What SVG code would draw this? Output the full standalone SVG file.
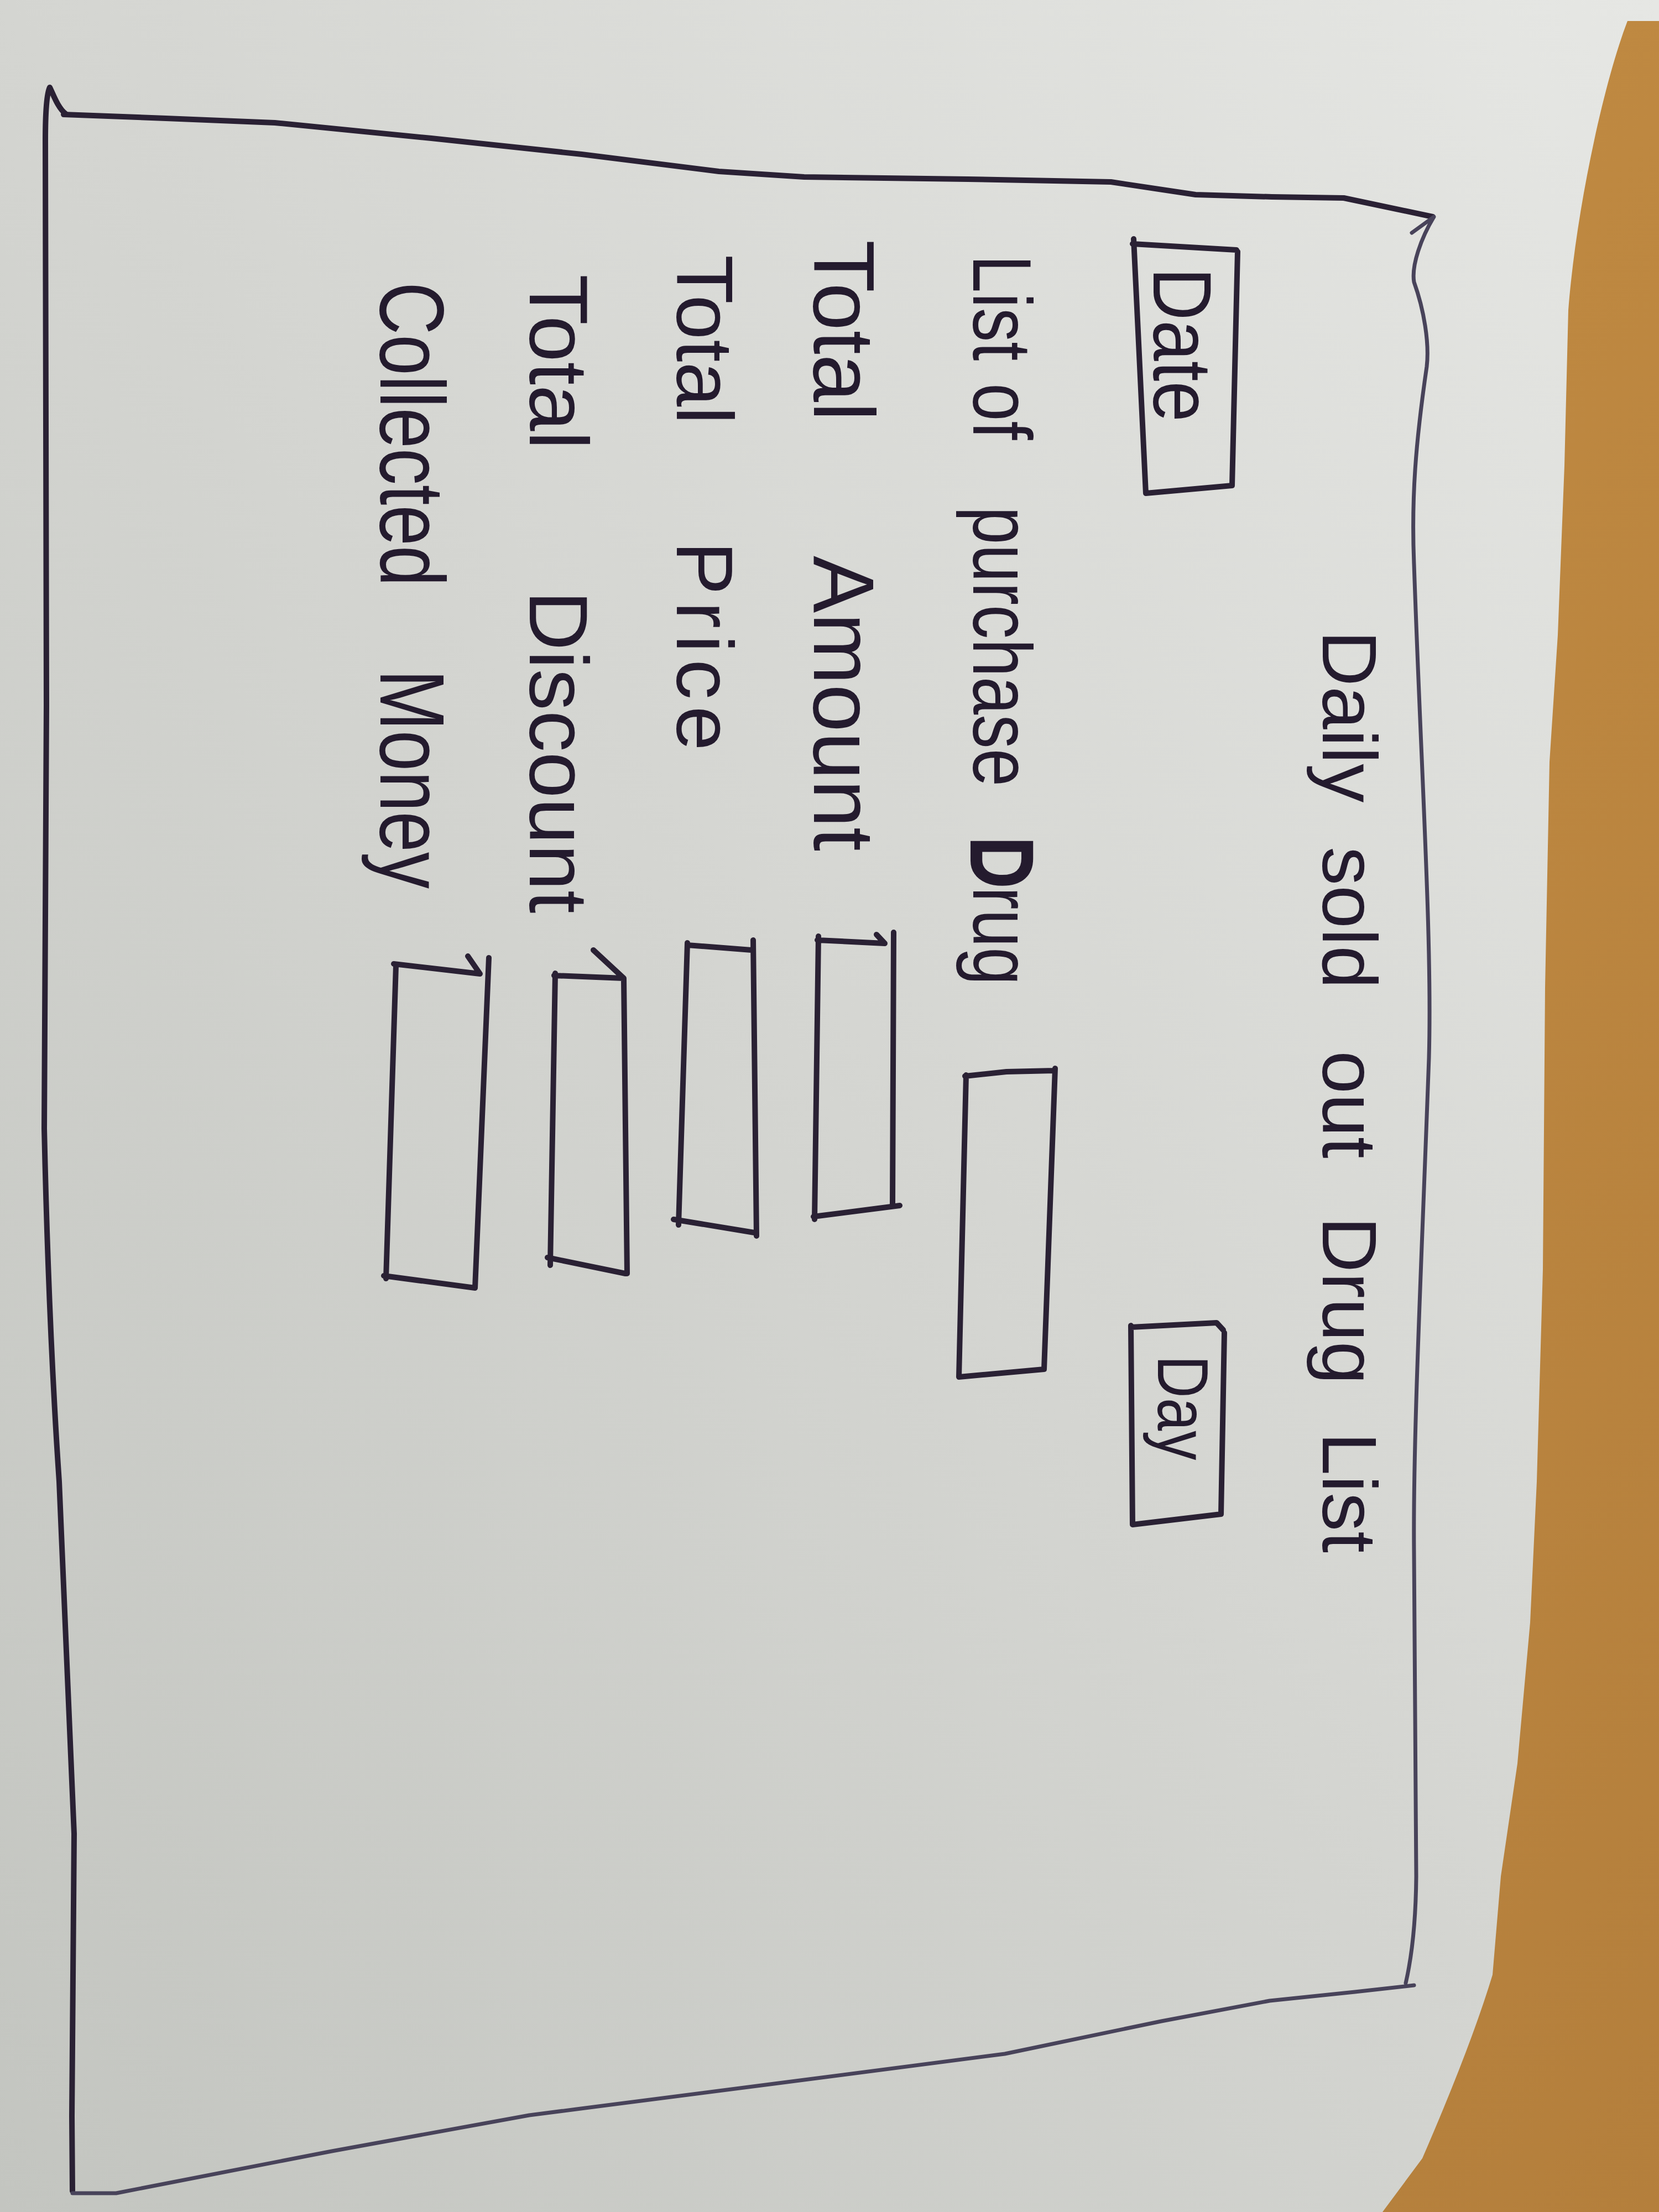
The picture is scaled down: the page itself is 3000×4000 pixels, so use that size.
<svg xmlns="http://www.w3.org/2000/svg" width="3000" height="4000" viewBox="0 0 3000 4000">
<defs>
<linearGradient id="paperGrad" x1="0" y1="1" x2="1" y2="0">
<stop offset="0" stop-color="#c3c5c0"/>
<stop offset="0.5" stop-color="#d4d5d1"/>
<stop offset="1" stop-color="#e6e7e4"/>
</linearGradient>
<linearGradient id="woodGrad" x1="0" y1="0" x2="1" y2="1">
<stop offset="0" stop-color="#c99246"/>
<stop offset="1" stop-color="#b47f3c"/>
</linearGradient>
<style>
.ink{fill:none;stroke:#2a2134;stroke-linecap:round;stroke-linejoin:round}
.box{stroke-width:10}
.frame{stroke-width:10}
.frameR{stroke:#48435a;stroke-width:7}
.lbl{font-family:"Liberation Sans","DejaVu Sans",sans-serif;fill:#241b2e}
</style>
</defs>
<rect id="wood" x="0" y="0" width="3000" height="4000" fill="url(#woodGrad)"/>
<path id="paper" d="M0,0 H3000 V38 L2943,38 C2900,150 2850,380 2836,561 L2829,842 L2817,1148 L2802,1378 L2794,1786 L2790,2296 L2779,2679 L2767,2934 L2744,3189 L2714,3393 L2699,3571 Q2660,3700 2572,3903 L2500,4000 L0,4000 Z" fill="url(#paperGrad)"/>

<g id="frame">
<path class="ink frame" d="M119,206 C105,196 96,170 90,158 C84,170 82,210 82,255 L84,1276 L80,2041 Q88,2400 107,2679 L134,3316 L130,3827 L131,3962"/>
<path class="ink frame" d="M115,207 L300,214 L497,222 L780,250 L1052,279 L1300,310 L1454,320 L1750,324 L2009,329 L2162,352 L2300,356 L2430,358 L2591,392"/>
<path class="ink frameR" d="M2553,421 L2593,392 C2570,430 2552,480 2557,510 C2575,560 2585,620 2580,663 C2560,800 2552,900 2557,1020 C2570,1400 2590,1700 2584,1913 C2570,2300 2555,2600 2557,2806 L2561,3393 C2560,3500 2548,3560 2542,3586"/>
<path class="ink frameR" d="M131,3966 L210,3966 L600,3890 L957,3825 L1400,3768 L1817,3714 L2100,3655 L2296,3618 L2450,3602 L2557,3590"/>
</g>

<g id="title">
<text class="lbl" font-size="140" transform="translate(2392,1140) rotate(90)"><tspan x="0">Daily </tspan><tspan x="391">sold </tspan><tspan x="760">out </tspan><tspan x="1060">Drug </tspan><tspan x="1450">List</tspan></text>
</g>

<g id="date">
<path class="ink box" d="M2050,432 L2072,892 L2228,878 L2238,455 M2048,441 L2236,452"/>
<text class="lbl" font-size="150" transform="translate(2086,484) rotate(90) scale(0.88,1)">Date</text>
</g>

<g id="day">
<path class="ink box" d="M2045,2397 L2048,2757 L2208,2738 L2214,2410 M2045,2400 L2200,2392 L2212,2405"/>
<text class="lbl" font-size="130" transform="translate(2094,2451) rotate(90) scale(0.82,1)">Day</text>
</g>

<g id="purchase-drug">
<text class="lbl" font-size="150" transform="translate(1760,461) rotate(90) scale(0.82,1)"><tspan x="0">List </tspan><tspan x="283">of </tspan><tspan x="555">purchase </tspan><tspan x="1285" stroke="#241b2e" stroke-width="10">D</tspan><tspan>rug</tspan></text>
<path class="ink box" d="M1747,1944 L1734,2490 L1888,2476 L1908,1932 M1745,1946 L1820,1938 L1906,1936"/>
</g>

<g id="total-amount">
<text class="lbl" font-size="155" transform="translate(1472,434) rotate(90)"><tspan x="0">Total </tspan><tspan x="571">Amount</tspan></text>
<path class="ink box" d="M1480,1693 L1473,2205 M1478,1700 L1600,1706 L1585,1690 M1616,1686 L1614,2177 M1471,2200 L1627,2180"/>
</g>

<g id="total-price">
<text class="lbl" font-size="145" transform="translate(1224,461) rotate(90)"><tspan x="0">Total </tspan><tspan x="518" letter-spacing="12">Price</tspan></text>
<path class="ink box" d="M1243,1705 L1227,2215 M1243,1709 L1359,1718 M1362,1700 L1368,2235 M1218,2205 L1364,2229"/>
</g>

<g id="total-discount">
<text class="lbl" font-size="150" transform="translate(958,496) rotate(90)"><tspan x="0">Total </tspan><tspan x="572">Discount</tspan></text>
<path class="ink box" d="M1004,1760 L995,2288 M1002,1764 L1128,1769 L1073,1718 M1128,1769 L1134,2303 M990,2274 L1131,2303"/>
</g>

<g id="collected-money">
<text class="lbl" font-size="165" transform="translate(688,510) rotate(90) scale(0.8,1)"><tspan x="0">Collected </tspan><tspan x="876">Money</tspan></text>
<path class="ink box" d="M716,1746 L698,2312 M712,1743 L868,1761 L846,1729 M884,1732 L859,2329 M694,2307 L859,2329"/>
</g>

<g id="connectors"></g>
</svg>
